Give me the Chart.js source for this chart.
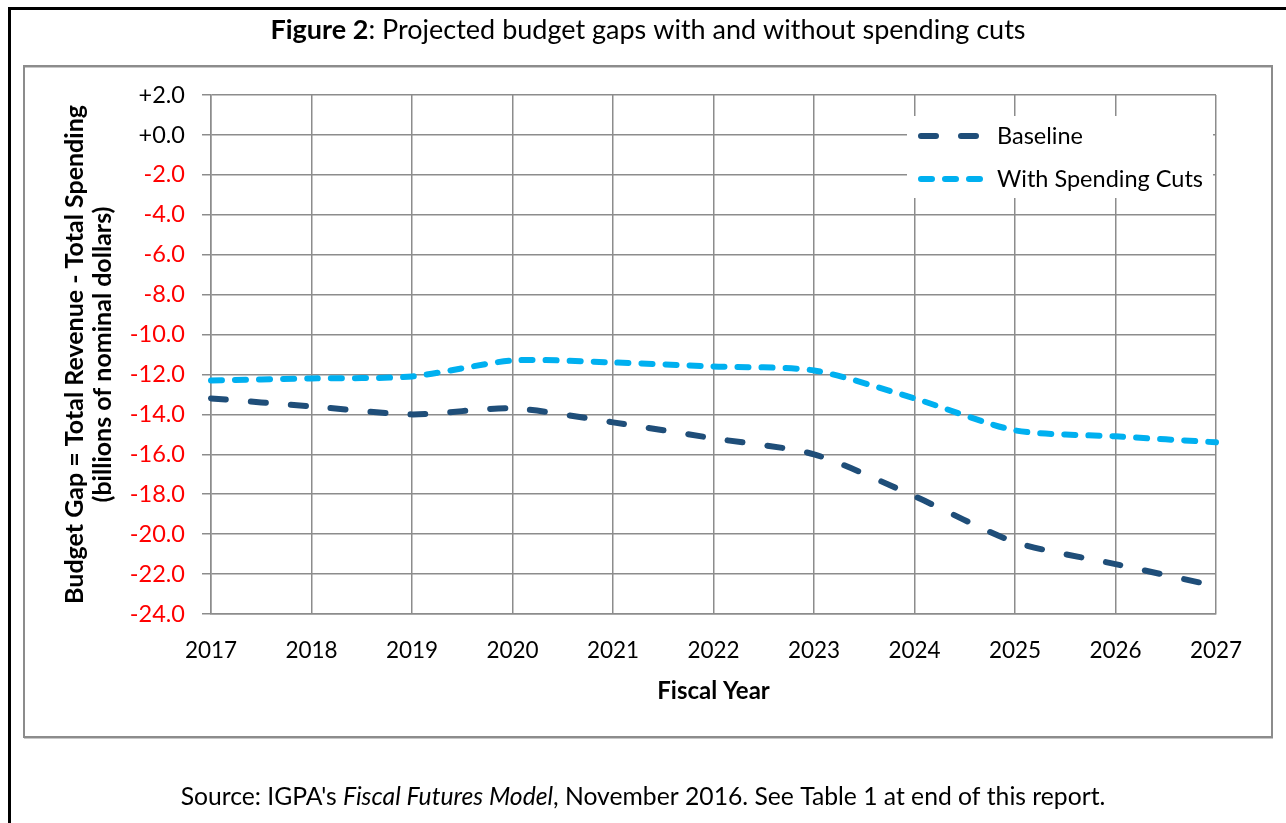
<!DOCTYPE html>
<html>
<head>
<meta charset="utf-8">
<script src="https://cdn.jsdelivr.net/npm/chart.js@4.4.1/dist/chart.umd.min.js"></script>
<style>
  html, body { margin: 0; padding: 0; background: #fff; }
  #wrap { width: 1286px; height: 823px; position: relative; }
  canvas { display: block; }
</style>
</head>
<body>
<div id="wrap"><canvas id="c" width="1286" height="823"></canvas></div>
<script>
// ---- Data ----
const years = ['2017','2018','2019','2020','2021','2022','2023','2024','2025','2026','2027'];
const baseline = [-13.2, -13.6, -14.0, -13.7, -14.4, -15.2, -16.0, -18.1, -20.4, -21.5, -22.6];
const withCuts = [-12.3, -12.2, -12.1, -11.3, -11.4, -11.6, -11.8, -13.2, -14.8, -15.1, -15.4];
const seriesLabels = ['Baseline', 'With Spending Cuts'];
const yMin = -24, yMax = 2, yStep = 2;
const titleBold = 'Figure 2';
const titleRest = ': Projected budget gaps with and without spending cuts';
const yTitle = ['Budget Gap = Total Revenue - Total Spending', '(billions of nominal dollars)'];
const xTitle = 'Fiscal Year';
const sourceParts = [
  {t: "Source: IGPA's ", i: false},
  {t: 'Fiscal Futures Model', i: true},
  {t: ', November 2016. See Table 1 at end of this report.', i: false}
];

const FONT = 'Lato, "Open Sans", sans-serif';
const GRID = '#8c8c8c';

const framePlugin = {
  id: 'frame',
  beforeDraw(chart) {
    const ctx = chart.ctx;
    ctx.save();
    ctx.fillStyle = '#fff';
    ctx.fillRect(0, 0, chart.width, chart.height);
    // outer black frame (top + left)
    ctx.fillStyle = '#000';
    ctx.fillRect(8, 7, chart.width - 8, 3);
    ctx.fillRect(8, 7, 3, chart.height - 7);
    // gray chart box
    ctx.strokeStyle = '#c8c8c8';
    ctx.lineWidth = 1;
    ctx.strokeRect(24.5, 67.5, 1248, 671);
    ctx.strokeStyle = '#8c8c8c';
    ctx.lineWidth = 2;
    ctx.strokeRect(24, 66, 1248, 671);
    // title
    ctx.fillStyle = '#000';
    ctx.textBaseline = 'middle';
    ctx.font = 'bold 27px ' + FONT;
    const wB = ctx.measureText(titleBold).width;
    ctx.font = '27px ' + FONT;
    const wR = ctx.measureText(titleRest).width;
    let x = 648 - (wB + wR) / 2;
    ctx.font = 'bold 27px ' + FONT;
    ctx.fillText(titleBold, x, 30);
    ctx.font = '27px ' + FONT;
    ctx.fillText(titleRest, x + wB, 30);
    // source
    let total = 0;
    sourceParts.forEach(p => { ctx.font = (p.i ? 'italic ' : '') + '24.7px ' + FONT; total += ctx.measureText(p.t).width; });
    x = 643 - total / 2;
    sourceParts.forEach(p => {
      ctx.font = (p.i ? 'italic ' : '') + '24.7px ' + FONT;
      ctx.fillText(p.t, x, 797);
      x += ctx.measureText(p.t).width;
    });
    ctx.restore();
  }
};

const legendPlugin = {
  id: 'customLegend',
  afterDatasetsDraw(chart) {
    const ctx = chart.ctx;
    const bx = 907, by = 116, bw = 306, bh = 82;
    ctx.save();
    ctx.fillStyle = '#fff';
    ctx.fillRect(bx, by, bw, bh);
    chart.data.datasets.forEach((ds, i) => {
      const y = 136 + i * 43;
      ctx.strokeStyle = ds.borderColor;
      ctx.lineWidth = ds.borderWidth;
      ctx.lineCap = 'round';
      ctx.setLineDash(ds.borderDash);
      ctx.beginPath();
      ctx.moveTo(921, y);
      ctx.lineTo(981, y);
      ctx.stroke();
      ctx.setLineDash([]);
      ctx.fillStyle = '#000';
      ctx.font = '23.5px ' + FONT;
      ctx.textBaseline = 'middle';
      ctx.fillText(ds.label, 997, y);
    });
    ctx.restore();
  }
};

new Chart(document.getElementById('c'), {
  type: 'line',
  data: {
    labels: years,
    datasets: [
      {
        label: seriesLabels[0], data: baseline,
        borderColor: '#1f4e79', borderWidth: 6, borderDash: [15, 25],
        borderCapStyle: 'round', pointRadius: 0, tension: 0.25, fill: false
      },
      {
        label: seriesLabels[1], data: withCuts,
        borderColor: '#00b0f0', borderWidth: 6, borderDash: [11, 13],
        borderCapStyle: 'round', pointRadius: 0, tension: 0.25, fill: false
      }
    ]
  },
  options: {
    responsive: false,
    animation: false,
    events: [],
    layout: { padding: { left: 24, top: 95, right: 70, bottom: 109 } },
    plugins: {
      legend: { display: false },
      title: { display: false },
      tooltip: { enabled: false }
    },
    scales: {
      x: {
        type: 'category',
        offset: false,
        afterFit(s) { s.height = 100; },
        grid: { color: GRID, lineWidth: 1.5, drawTicks: false, offset: false },
        border: { color: GRID, width: 1.5 },
        ticks: { color: '#000', font: { family: FONT, size: 22.5 }, padding: 23, maxRotation: 0, autoSkip: false },
        title: { display: true, text: xTitle, color: '#000', font: { family: FONT, size: 24, weight: 'bold' }, padding: { top: 0, bottom: 8 } }
      },
      y: {
        min: yMin, max: yMax,
        afterFit(s) { s.width = 187; },
        grid: { color: GRID, lineWidth: 1.5, tickLength: 9, drawTicks: true },
        border: { color: GRID, width: 1.5 },
        ticks: {
          stepSize: yStep,
          padding: 17,
          font: { family: FONT, size: 23.5 },
          color: (c) => (c.tick && c.tick.value < 0 ? '#ff0000' : '#000'),
          callback: (v) => (v >= 0 ? '+' + Math.abs(v).toFixed(1) : v.toFixed(1))
        },
        title: { display: true, text: yTitle, color: '#000', font: { family: FONT, size: 25, weight: 'bold', lineHeight: 1.12 }, padding: { top: 37, bottom: 0 } }
      }
    }
  },
  plugins: [framePlugin, legendPlugin]
});
</script>
</body>
</html>
